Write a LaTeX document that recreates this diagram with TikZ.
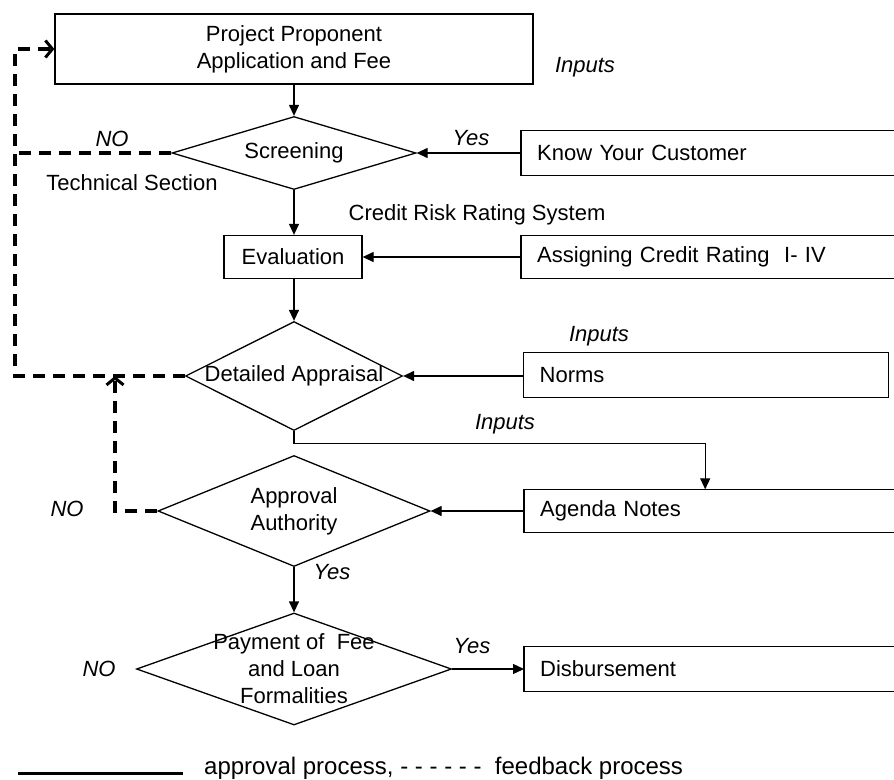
\documentclass[tikz,border=0pt]{standalone}
\usepackage{fontspec}
\setmainfont{Liberation Sans}
\usetikzlibrary{shapes.geometric,arrows.meta}
\tikzset{
  txt/.style={font=\fontsize{22}{27}\selectfont},
  box/.style={txt, draw, line width=1.3pt, inner sep=0pt, align=center},
  openbox/.style={txt, inner ysep=0pt, inner xsep=16pt, anchor=west, align=left},
  dia/.style={diamond, draw, line width=1.3pt, inner sep=0pt, aspect=1},
  lbl/.style={txt, inner sep=0pt},
  itl/.style={font=\fontsize{22}{27}\selectfont\itshape, inner sep=0pt},
  arr/.style={line width=1.3pt, -{Triangle[length=11pt,width=10pt]}},
  fb/.style={line width=3.4pt, dash pattern=on 12pt off 8pt},
  fbarr/.style={fb, -{Straight Barb[length=7pt,width=17pt,line width=3pt]}},
  boxline/.style={line width=1.3pt}
}
\begin{document}
\begin{tikzpicture}[x=1pt,y=-1pt]
\useasboundingbox (0,0) rectangle (894,779);

% main column
\node[box, minimum width=478pt, minimum height=70pt] (pp) at (294,49) {Project Proponent\\Application and Fee};
\node[dia, minimum width=244pt, minimum height=73pt,
      label={[lbl]center:Screening}] (scr) at (294,153) {};
\node[box, minimum width=138pt, minimum height=43pt] (eval) at (293,257) {Evaluation};
\node[dia, minimum width=217pt, minimum height=109pt,
      label={[lbl]center:Detailed Appraisal}] (da) at (294,376) {};
\node[dia, minimum width=272pt, minimum height=111pt,
      label={[lbl,align=center]center:Approval\\Authority}] (aa) at (294,511) {};
\node[dia, minimum width=315pt, minimum height=112pt,
      label={[lbl,align=center]center:Payment of~~Fee\\and Loan\\Formalities}] (pay) at (294,669) {};

% right-side input boxes
\node[openbox, text width=341pt, minimum height=44pt] (kyc) at (521,153) {Know Your Customer};
\node[openbox, text width=341pt, minimum height=42pt] (acr) at (521,257) {Assigning Credit Rating~~I- IV};
\node[openbox, draw, line width=1.3pt, text width=333pt, minimum height=45pt] (norms) at (523,375) {Norms};
\node[openbox, text width=338pt, minimum height=43pt] (agenda) at (524,511) {Agenda Notes};
\node[openbox, text width=338pt, minimum height=44pt] (disb) at (524,669) {Disbursement};

\foreach \b in {kyc,acr,agenda,disb}{
  \draw[boxline] (\b.north east) -- (\b.north west) -- (\b.south west) -- (\b.south east);
}

% approval connectors
\draw[arr] (pp.south) -- (scr.north);
\draw[arr] (kyc.west) -- (scr.east);
\draw[arr] (scr.south) -- (scr.south |- eval.north);
\draw[arr] (acr.west) -- (eval.east);
\draw[arr] (da.north |- eval.south) -- (da.north);
\draw[arr] (norms.west |- da.east) -- (da.east);
\draw[arr] (da.south) -- ++(0,12) -| ([xshift=-4pt]agenda.north);
\draw[arr] (agenda.west) -- (aa.east);
\draw[arr] (aa.south) -- (pay.north);
\draw[arr] (pay.east) -- (disb.west);

% feedback connectors
\coordinate (fbA) at (15,376);
\coordinate (fbS) at (15,153);
\coordinate (fbB) at (115,511);
\draw[fbarr] (da.west) -- (fbA) |- (pp.west);
\draw[fb] (scr.west) -- (fbS);
\draw[fbarr] (aa.west) -- (fbB) -- (fbB |- da.west);

% labels
\node[itl] at (585,67) {Inputs};
\node[itl] at (471,138) {Yes};
\node[itl] at (112,139) {NO};
\node[lbl] at (132,183) {Technical Section};
\node[lbl] at (477,215) {Credit Risk Rating System};
\node[itl] at (599,336) {Inputs};
\node[itl] at (505,424) {Inputs};
\node[itl] at (67,509) {NO};
\node[itl] at (332,572) {Yes};
\node[itl] at (472,646) {Yes};
\node[itl] at (99,669) {NO};

% legend
\draw[line width=3pt] (18,773) -- (183,773);
\node[font=\fontsize{24}{28}\selectfont, inner sep=0pt, anchor=west] at (204,768) {approval process, - - - - - -~~feedback process};
\end{tikzpicture}
\end{document}
